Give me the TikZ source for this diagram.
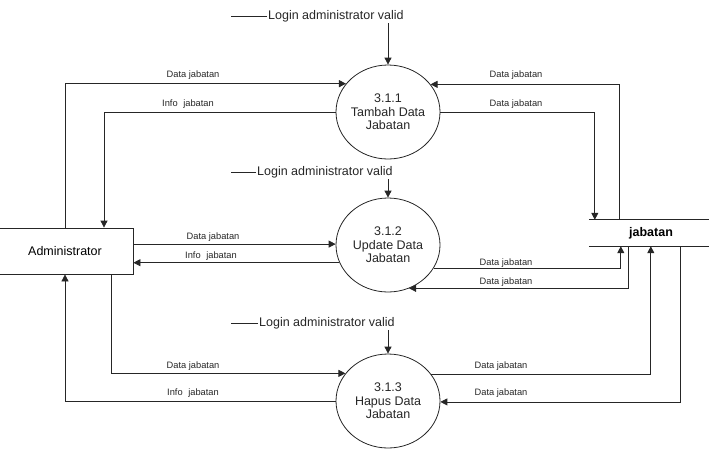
\documentclass[tikz,border=0pt]{standalone}
\usepackage{fontspec}
\setmainfont{Liberation Sans}
\usetikzlibrary{shapes.geometric,arrows.meta}
\begin{document}
\begin{tikzpicture}[x=1pt,y=-1pt,
  line/.style={draw=black!85, line width=0.8pt},
  arr/.style={line, -{Triangle[length=7pt,width=7pt]}},
  proc/.style={ellipse, draw=black!85, line width=0.8pt, minimum width=104pt, minimum height=94pt, inner sep=0pt},
  proctext/.style={align=center, font=\fontsize{12.5}{13.5}\selectfont, text=black!85},
  flow/.style={font=\fontsize{9.3}{10}\selectfont, text=black!85, inner sep=1pt},
  login/.style={font=\fontsize{12.5}{14}\selectfont, text=black!85, inner sep=1pt},
  entity/.style={rectangle, draw=black!85, line width=0.8pt, minimum width=136pt, minimum height=46pt, font=\fontsize{12.5}{14}\selectfont},
  storebox/.style={rectangle, minimum width=124pt, minimum height=26pt, inner sep=0pt, font=\bfseries\fontsize{12.5}{14}\selectfont}
]
\useasboundingbox (0,0) rectangle (709,456);

% nodes
\node[entity] (admin) at (65,251) {Administrator};
\node[proc] (p1) at (388,112) {};
\node[proctext] (t1) at (p1.center) {3.1.1\\Tambah Data\\Jabatan};
\node[proc] (p2) at (388,245) {};
\node[proctext] (t2) at (p2.center) {3.1.2\\Update Data\\Jabatan};
\node[proc] (p3) at (388,401) {};
\node[proctext] (t3) at (p3.center) {3.1.3\\Hapus Data\\Jabatan};
\node[storebox] (store) at (651,233) {jabatan};
\draw[line] (store.north west) -- (store.north east);
\draw[line] (store.south west) -- (store.south east);

% login labels
\node[login, anchor=west] (l1) at (267,16) {Login administrator valid};
\node[login, anchor=west] (l2) at (256,172) {Login administrator valid};
\node[login, anchor=west] (l3) at (258,323) {Login administrator valid};
\draw[line] (l1.west) -- ++(-36,0);
\draw[line] (l2.west) -- ++(-25,0);
\draw[line] (l3.west) -- ++(-27,0);
\draw[arr] (l1.south -| p1.north) -- (p1.north);
\draw[arr] (l2.south -| p2.north) -- (p2.north);
\draw[arr] (l3.south -| p3.north) -- (p3.north);

% process 3.1.1
\draw[arr] (admin.north) |- (p1.146.2);
\draw[arr] (p1.west) -| ([xshift=39pt]admin.north);
\draw[arr] (p1.east) -| ([xshift=6pt]store.north west);
\draw[arr] ([xshift=31pt]store.north west) |- (p1.33.8);
\node[flow] (f1) at (193,75) {Data jabatan};
\node[flow] (f2) at (188,104) {Info\hspace{0.6em}jabatan};
\node[flow] (f3) at (516,75) {Data jabatan};
\node[flow] (f4) at (516,104) {Data jabatan};

% process 3.1.2
\draw[arr] (admin.east |- p2.179) -- (p2.179);
\draw[arr] (p2.200.6) -- (admin.east |- p2.200.6);
\draw[arr] (p2.333.1) -| ([xshift=32pt]store.south west);
\draw[arr] ([xshift=40pt]store.south west) |- (p2.296);
\node[flow] (f5) at (213,237) {Data jabatan};
\node[flow] (f6) at (211,256) {Info\hspace{0.6em}jabatan};
\node[flow] (f7) at (506,263) {Data jabatan};
\node[flow] (f8) at (506,282) {Data jabatan};

% process 3.1.3
\draw[arr] ([xshift=46pt]admin.south) |- (p3.147.6);
\draw[arr] (p3.west) -| (admin.south);
\draw[arr] (p3.32.4) -| ([xshift=62pt]store.south west);
\draw[arr] ([xshift=92pt]store.south west) |- (p3.359);
\node[flow] (f9) at (193,366) {Data jabatan};
\node[flow] (f10) at (193,393) {Info\hspace{0.6em}jabatan};
\node[flow] (f11) at (501,366) {Data jabatan};
\node[flow] (f12) at (501,393) {Data jabatan};
\end{tikzpicture}
\end{document}
